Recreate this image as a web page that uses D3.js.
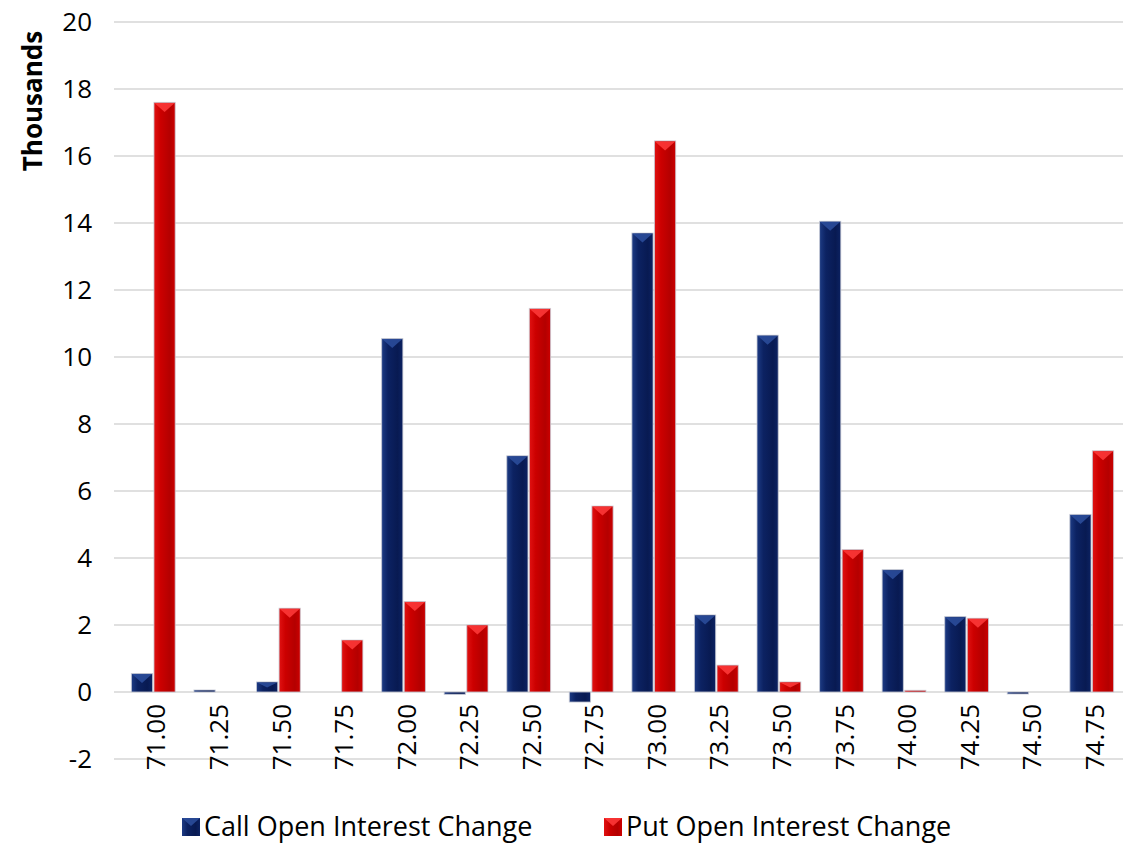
<!DOCTYPE html>
<html>
<head>
<meta charset="utf-8">
<script src="https://cdn.jsdelivr.net/npm/d3@7"></script>
<style>
  body { margin: 0; background: #fff; }
  text { font-family: "Open Sans", "Noto Sans", sans-serif; fill: #000; }
</style>
</head>
<body>
<div id="chart"></div>
<script>
// data (thousands)
const strikes = ["71.00", "71.25", "71.50", "71.75", "72.00", "72.25", "72.50", "72.75",
                 "73.00", "73.25", "73.50", "73.75", "74.00", "74.25", "74.50", "74.75"];
const callChange = [0.55, 0.06, 0.3, 0, 10.55, -0.07, 7.05, -0.3,
                    13.7, 2.3, 10.65, 14.05, 3.65, 2.25, -0.06, 5.3];
const putChange = [17.6, 0, 2.5, 1.55, 2.7, 2.0, 11.45, 5.55,
                   16.45, 0.8, 0.3, 4.25, 0.05, 2.2, 0, 7.2];
const yTicks = [-2, 0, 2, 4, 6, 8, 10, 12, 14, 16, 18, 20];
const seriesNames = ["Call Open Interest Change", "Put Open Interest Change"];

const width = 1132, height = 846;
const plot = { left: 122, right: 1123, top: 22, bottom: 759 };

const svg = d3.select("#chart").append("svg")
    .attr("width", width)
    .attr("height", height);

const defs = svg.append("defs");
const palettes = [
    { key: "call", edge: "#1d3b84", mid: "#0c2262", dark: "#081a52", tri: "#2d4f9e" },
    { key: "put", edge: "#e01212", mid: "#cc0000", dark: "#b40000", tri: "#ff3b3b" }
];
palettes.forEach(p => {
    const g = defs.append("linearGradient").attr("id", "grad-" + p.key)
        .attr("x1", 0).attr("x2", 1).attr("y1", 0).attr("y2", 0);
    g.append("stop").attr("offset", "0%").attr("stop-color", p.edge);
    g.append("stop").attr("offset", "30%").attr("stop-color", p.mid);
    g.append("stop").attr("offset", "75%").attr("stop-color", p.dark);
    g.append("stop").attr("offset", "100%").attr("stop-color", p.mid);
});

const x0 = d3.scaleBand()
    .domain(strikes)
    .range([plot.left, plot.right])
    .paddingInner(0.3)
    .paddingOuter(0.15);

const x1 = d3.scaleBand()
    .domain([0, 1])
    .range([0, x0.bandwidth()])
    .paddingInner(0.06);

const y = d3.scaleLinear()
    .domain([-2, 20])
    .range([plot.bottom, plot.top]);

// gridlines
svg.append("g")
    .selectAll("line")
    .data(yTicks)
    .join("line")
    .attr("x1", plot.left - 8)
    .attr("x2", plot.right)
    .attr("y1", d => y(d))
    .attr("y2", d => y(d))
    .attr("stroke", "#d6d6d6")
    .attr("stroke-width", 1.5);

// y axis labels (hyphen minus like the original)
const yAxis = d3.axisLeft(y).tickValues(yTicks).tickSize(0).tickPadding(0)
    .tickFormat(d => String(d));
svg.append("g")
    .attr("transform", "translate(92,0)")
    .call(yAxis)
    .call(g => g.select(".domain").remove())
    .call(g => g.selectAll("text")
        .attr("font-size", 26)
        .attr("font-family", "'Open Sans', sans-serif")
        .attr("fill", "#000"));

svg.append("text")
    .attr("transform", "translate(33,101) rotate(-90)")
    .attr("text-anchor", "middle")
    .attr("dy", "0.35em")
    .attr("font-size", 26)
    .attr("font-weight", "bold")
    .text("Thousands");

// bars
const rows = strikes.map((s, i) => ({ strike: s, vals: [callChange[i], putChange[i]] }));
const groups = svg.append("g")
    .selectAll("g")
    .data(rows)
    .join("g")
    .attr("transform", d => `translate(${x0(d.strike)},0)`);

const bars = groups.selectAll("g.bar")
    .data(d => d.vals.map((v, k) => ({ v, k })).filter(b => b.v !== 0))
    .join("g")
    .attr("class", "bar");

bars.append("rect")
    .attr("x", d => x1(d.k))
    .attr("width", x1.bandwidth())
    .attr("y", d => Math.min(y(d.v), y(0)))
    .attr("height", d => Math.max(Math.abs(y(d.v) - y(0)), 1.5))
    .attr("fill", d => `url(#grad-${palettes[d.k].key})`)
    .attr("stroke", "#c9ccd6")
    .attr("stroke-opacity", 0.8)
    .attr("stroke-width", 1);

// top bevel chevron
bars.filter(d => d.v > 0.15)
    .append("path")
    .attr("d", d => {
        const xa = x1(d.k) + 0.5, xb = x1(d.k) + x1.bandwidth() - 0.5;
        const top = y(d.v) + 0.5;
        const h = Math.min(9, (y(0) - y(d.v)) / 2);
        return `M${xa},${top}L${xb},${top}L${(xa + xb) / 2},${top + h}Z`;
    })
    .attr("fill", d => palettes[d.k].tri)
    .attr("opacity", 0.85);

// x labels
const xAxis = d3.axisBottom(x0).tickSize(0).tickPadding(0);
svg.append("g")
    .attr("transform", `translate(0,${y(0)})`)
    .call(xAxis)
    .call(g => g.select(".domain").remove())
    .call(g => g.selectAll("text")
        .attr("font-size", 26)
        .attr("font-family", "'Open Sans', sans-serif")
        .attr("fill", "#000")
        .attr("transform", "rotate(-90)")
        .attr("text-anchor", "end")
        .attr("x", -12)
        .attr("y", 3)
        .attr("dy", "0.35em"));

// legend
const legend = svg.append("g");
const legendX = [182, 604];
seriesNames.forEach((name, k) => {
    const lg = legend.append("g").attr("transform", `translate(${legendX[k]},818)`);
    lg.append("rect")
        .attr("width", 18).attr("height", 18)
        .attr("fill", `url(#grad-${palettes[k].key})`);
    lg.append("path")
        .attr("d", "M0,0L18,0L9,8Z")
        .attr("fill", palettes[k].tri)
        .attr("opacity", 0.85);
    lg.append("text")
        .attr("x", 22)
        .attr("y", 9)
        .attr("dy", "0.35em")
        .attr("font-size", 27)
        .text(name);
});
</script>
</body>
</html>
